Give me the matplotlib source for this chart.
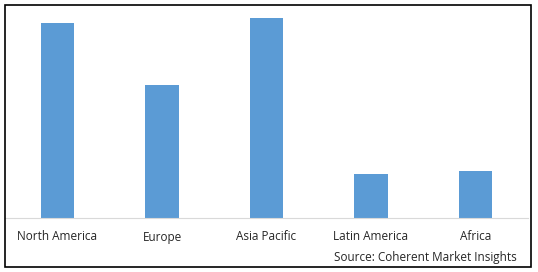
import matplotlib.pyplot as plt
from matplotlib.patches import Rectangle

regions = ['North America', 'Europe', 'Asia Pacific', 'Latin America', 'Africa']
share = [195, 133, 200, 44, 47]
source = 'Source: Coherent Market Insights'

W, H = 538, 272
fig = plt.figure(figsize=(W / 100, H / 100), dpi=100)

# plot area in pixels: left 5, right 528, bottom at y=218, top at y=10
ax = fig.add_axes([5.25 / W, 1 - 218 / H, 522.5 / W, 208 / H])
ax.bar(range(len(regions)), share, width=0.32, color='#5b9bd5')
ax.set_xlim(-0.5, len(regions) - 0.5)
ax.set_ylim(0, 208)
ax.set_xticks(range(len(regions)))
ax.set_xticklabels(regions, fontsize=8.5, color='#262626', family='Open Sans')
ax.tick_params(axis='x', length=0, pad=9)
ax.set_yticks([])
for s in ['top', 'left', 'right']:
    ax.spines[s].set_visible(False)
ax.spines['bottom'].set_color('#d9d9d9')

fig.text(517 / W, 1 - 258 / H, source, ha='right', va='center',
         fontsize=8.5, color='#262626', family='Open Sans')

# outer frame
fig.patches.append(Rectangle((4.5 / W, 1 - 267 / H), 526 / W, 262 / H,
                             transform=fig.transFigure, fill=False,
                             edgecolor='black', linewidth=1.2))

fig.savefig('out.png', dpi=100)
